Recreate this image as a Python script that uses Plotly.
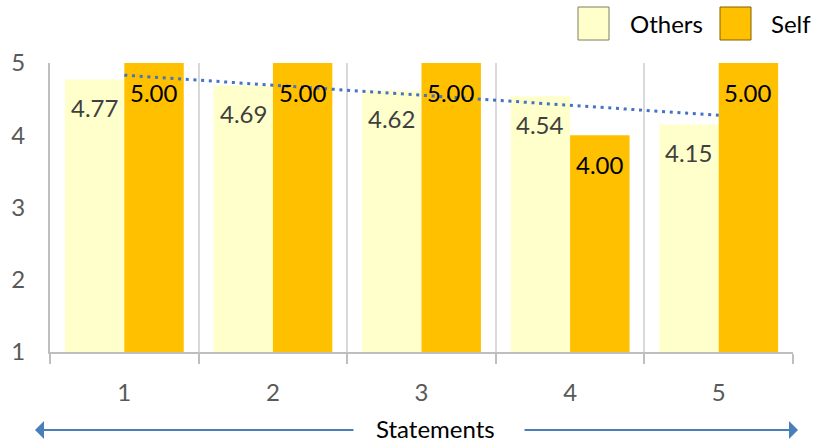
import numpy as np
import plotly.graph_objects as go

# Chart data
statements = ["1", "2", "3", "4", "5"]
others = [4.77, 4.69, 4.62, 4.54, 4.15]
self_scores = [5.00, 5.00, 5.00, 4.00, 5.00]
y_ticks = [1, 2, 3, 4, 5]

FONT = "Lato"
OTHERS_COLOR = "#FFFFCC"
SELF_COLOR = "#FFC000"
TREND_COLOR = "#4472C4"
ARROW_COLOR = "#4A7EBB"

# Plot area geometry (pixels) used for the decorative legend / arrows
W, H = 818, 442
L, R, T, B = 50, 25, 63, 90
PW, PH = W - L - R, H - T - B


def px(x):
    return (x - L) / PW


def py(y):
    return (H - B - y) / PH


fig = go.Figure()
fig.add_trace(go.Bar(x=statements, y=others, name="Others",
                     marker=dict(color=OTHERS_COLOR, line=dict(width=0)),
                     showlegend=False, hoverinfo="y"))
fig.add_trace(go.Bar(x=statements, y=self_scores, name="Self",
                     marker=dict(color=SELF_COLOR, line=dict(width=0)),
                     showlegend=False, hoverinfo="y"))

# Linear trend of the "Others" ratings
pos = np.arange(1, len(statements) + 1)
slope, intercept = np.polyfit(pos, others, 1)
fig.add_trace(go.Scatter(
    x=[statements[0], statements[-1]],
    y=[slope * pos[0] + intercept, slope * pos[-1] + intercept],
    mode="lines", line=dict(color=TREND_COLOR, width=3, dash="3px,4.7px"),
    showlegend=False, hoverinfo="skip"))

# Value labels just inside the top of each bar (category index positions)
annotations = []
half = 0.8 * PW / len(statements) / 4
for i, (o, s) in enumerate(zip(others, self_scores)):
    annotations.append(dict(x=i, y=o, xref="x", yref="y", text=f"{o:.2f}",
                            showarrow=False, xshift=-half, yshift=-28,
                            yanchor="middle",
                            font=dict(family=FONT, size=24, color="#404040")))
    annotations.append(dict(x=i, y=s, xref="x", yref="y", text=f"{s:.2f}",
                            showarrow=False, xshift=half, yshift=-29,
                            yanchor="middle",
                            font=dict(family=FONT, size=24, color="#000000")))

# Axis title with arrows on both sides
annotations.append(dict(x=px(435), y=py(429), xref="paper", yref="paper",
                        text="Statements", showarrow=False, yanchor="middle",
                        font=dict(family=FONT, size=24, color="#000000")))
annotations.append(dict(x=px(35), y=py(430), xref="paper", yref="paper",
                        ax=320, ay=0, text="", showarrow=True, arrowhead=1,
                        arrowsize=1.5, arrowwidth=2, arrowcolor=ARROW_COLOR))
annotations.append(dict(x=px(798), y=py(430), xref="paper", yref="paper",
                        ax=-275, ay=0, text="", showarrow=True, arrowhead=1,
                        arrowsize=1.5, arrowwidth=2, arrowcolor=ARROW_COLOR))

# Legend
legend_items = [("Others", OTHERS_COLOR, "#7F7F5F", 578, 628),
                ("Self", SELF_COLOR, "#806000", 720, 769)]
shapes = []
for label, fill, border, bx, tx in legend_items:
    shapes.append(dict(type="rect", xref="paper", yref="paper",
                       x0=px(bx), x1=px(bx + 31), y0=py(40), y1=py(7),
                       fillcolor=fill, line=dict(color=border, width=1)))
    annotations.append(dict(x=px(tx), y=py(23), xref="paper", yref="paper",
                            text=label, showarrow=False, xanchor="left",
                            yanchor="middle",
                            font=dict(family=FONT, size=24, color="#000000")))

fig.update_layout(
    width=W, height=H,
    margin=dict(l=L, r=R, t=T, b=B, pad=0),
    paper_bgcolor="white", plot_bgcolor="white",
    barmode="group", bargap=0.2, bargroupgap=0,
    font=dict(family=FONT, size=24, color="#595959"),
    annotations=annotations, shapes=shapes,
)
fig.update_xaxes(
    type="category", range=[-0.5, len(statements) - 0.5],
    tickson="boundaries", ticks="outside", ticklen=10,
    tickcolor="#BFBFBF", tickwidth=2,
    showgrid=True, gridcolor="#D9D9D9", gridwidth=2,
    showline=True, linecolor="#BFBFBF", linewidth=2,
    tickfont=dict(family=FONT, size=24, color="#595959"),
    ticklabelstandoff=18,
)
fig.update_yaxes(
    range=[1, 5], tickvals=y_ticks, showgrid=False, zeroline=False,
    showline=True, linecolor="#BFBFBF", linewidth=2, ticks="",
    tickfont=dict(family=FONT, size=24, color="#595959"),
    ticklabelstandoff=18,
)

fig.write_html("out.html")
